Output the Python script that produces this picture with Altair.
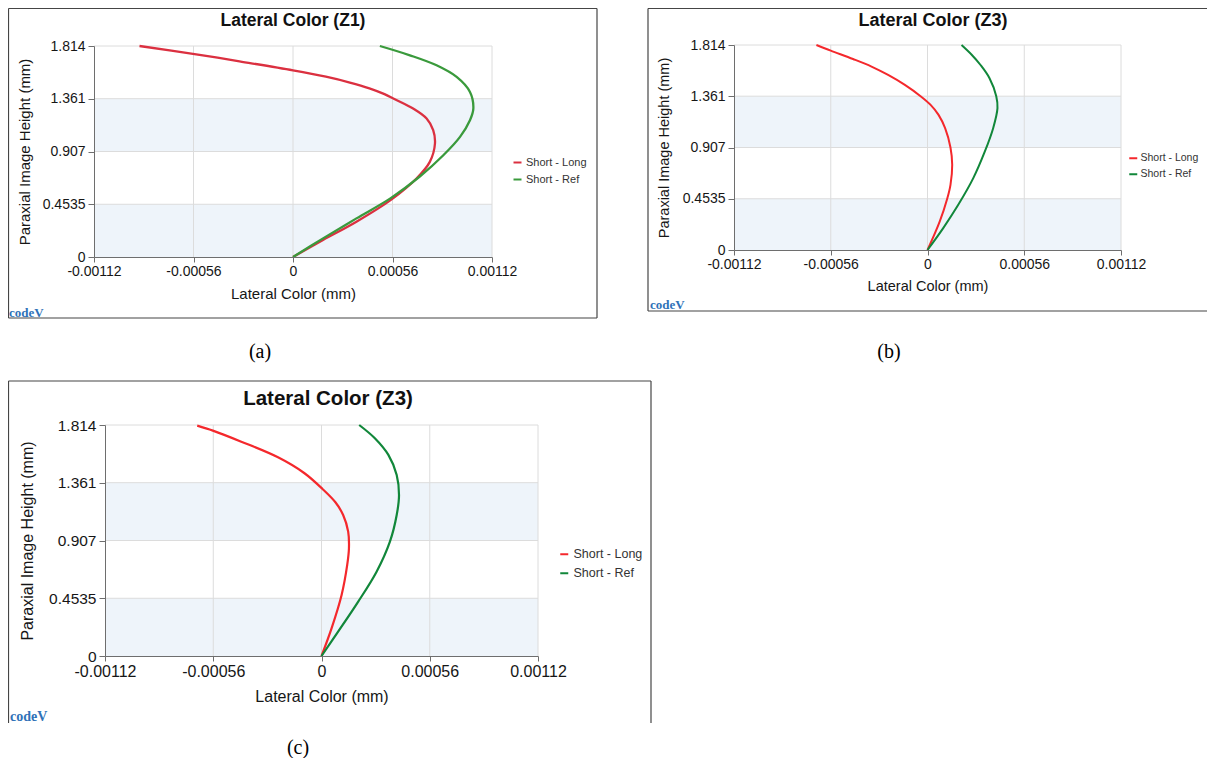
import altair as alt
import pandas as pd

FONT = "Liberation Sans"
SERIF = "Liberation Serif"
TXT = "#161616"
FRAME = "#454545"
GRID = "#dcdcdc"
BAND = "#eef4fa"
AXC = "#6e6e6e"

W, H = 1199, 750

series_names = ["Short - Long", "Short - Ref"]
x_ticks = [-0.00112, -0.00056, 0.0, 0.00056, 0.00112]
y_ticks = [0.0, 0.4535, 0.907, 1.361, 1.814]
band_lo = [0.0, 0.907]
band_hi = [0.4535, 1.361]

titles = ["Lateral Color (Z1)", "Lateral Color (Z3)", "Lateral Color (Z3)"]
captions = ["(a)", "(b)", "(c)"]
x_title = "Lateral Color (mm)"
y_title = "Paraxial Image Height (mm)"
logo_text = "codeV"

# Panel (a) Z1
a_long_h = [0, 0.146, 0.303, 0.495, 0.675, 0.818, 0.976, 1.09, 1.19, 1.276, 1.356, 1.40, 1.45, 1.50, 1.55,
            1.605, 1.682, 1.745, 1.814]
a_long_x = [0, 0.000169, 0.000357, 0.000555, 0.000695, 0.00077, 0.000799, 0.000789, 0.000752, 0.000676,
            0.000573, 0.000515, 0.00043, 0.00032, 0.000185, 0.0, -0.000301, -0.000554, -0.000864]
a_ref_h = [0, 0.160, 0.332, 0.504, 0.69, 0.875, 1.033, 1.176, 1.276, 1.419, 1.548, 1.648, 1.734, 1.814]
a_ref_x = [0, 0.000169, 0.000357, 0.000548, 0.000712, 0.000846, 0.00094, 0.000996, 0.001015, 0.000996,
           0.000921, 0.000808, 0.000658, 0.000489]

# Panel (b) Z3
b_long_h = [0, 0.253, 0.4535, 0.577, 0.754, 0.907, 1.078, 1.196, 1.284, 1.361, 1.461, 1.549, 1.623, 1.69, 1.764, 1.814]
b_long_x = [0, 0.000071, 0.000114, 0.000133, 0.000143, 0.000133, 0.000102, 0.000064, 0.000018, -0.00004,
            -0.000131, -0.000228, -0.000324, -0.000431, -0.00056, -0.000643]
b_ref_h = [0, 0.194, 0.40, 0.636, 0.872, 1.078, 1.255, 1.361, 1.52, 1.637, 1.726, 1.814]
b_ref_x = [0, 0.000091, 0.000178, 0.000265, 0.000332, 0.00038, 0.000405, 0.000398, 0.000359, 0.000307,
           0.000257, 0.000197]

# Panel (c) Z3
c_long_h = [0, 0.217, 0.479, 0.715, 0.846, 0.977, 1.107, 1.207, 1.312, 1.435, 1.56, 1.683, 1.77, 1.809]
c_long_x = [0, 0.000052, 0.000104, 0.000133, 0.000142, 0.000138, 0.000112, 0.000072, 0.000005, -0.000088,
            -0.000225, -0.000415, -0.000562, -0.000643]
c_ref_h = [0, 0.191, 0.427, 0.662, 0.898, 1.107, 1.264, 1.421, 1.579, 1.71, 1.814]
c_ref_x = [0, 0.000086, 0.00019, 0.000285, 0.000354, 0.000389, 0.000401, 0.000389, 0.000346, 0.000276, 0.000195]

LABEL_EXPR = "datum.value < 0 ? '-' + format(-datum.value, '~g') : format(datum.value, '~g')"


def curve_table(long_h, long_x, ref_h, ref_x):
    rows = []
    for name, hs, xs in [(series_names[0], long_h, long_x), (series_names[1], ref_h, ref_x)]:
        for i, (h, x) in enumerate(zip(hs, xs)):
            rows.append({"series": name, "h": h, "x": x, "idx": i})
    return pd.DataFrame(rows)


def panel(df, c):
    x0, x1, y0, y1 = c["plot"]  # pixel box of the plot area (left, right, bottom, top)
    xs = alt.Scale(domain=[x_ticks[0], x_ticks[-1]], range=[x0, x1], nice=False, zero=False)
    ys = alt.Scale(domain=[y_ticks[0], y_ticks[-1]], range=[y0, y1], nice=False, zero=False)
    common = dict(
        labelFont=FONT, titleFont=FONT, labelColor=TXT, titleColor=TXT, grid=False,
        titleFontWeight="normal", domainColor=AXC, tickColor=AXC, labelFlush=False,
        labelExpr=LABEL_EXPR, zindex=1,
    )
    xaxis = alt.Axis(orient="bottom", offset=y0 - H, values=x_ticks, title=x_title, labelFontSize=c["xlab"],
                     titleFontSize=c["tit"], titlePadding=c["xtp"], labelPadding=2, tickSize=5, **common)
    yaxis = alt.Axis(orient="left", offset=-x0, values=y_ticks, title=y_title, labelFontSize=c["ylab"],
                     titleFontSize=c["tit"], titlePadding=c["ytp"], labelPadding=3, tickSize=6, **common)

    bands = pd.DataFrame({"lo": band_lo, "hi": band_hi,
                          "x0": [x_ticks[0]] * len(band_lo), "x1": [x_ticks[-1]] * len(band_lo)})
    band = alt.Chart(bands).mark_rect(color=BAND).encode(
        x=alt.X("x0:Q", scale=xs, axis=xaxis), x2="x1:Q",
        y=alt.Y("lo:Q", scale=ys, axis=yaxis), y2="hi:Q",
    )
    vg = alt.Chart(pd.DataFrame({"gx": x_ticks[1:]})).mark_rule(color=GRID, strokeWidth=1).encode(
        x=alt.X("gx:Q", scale=xs, axis=xaxis),
        y=alt.Y(datum=y_ticks[0], type="quantitative", scale=ys, axis=yaxis),
        y2=alt.Y2(datum=y_ticks[-1]),
    )
    hg = alt.Chart(pd.DataFrame({"gy": y_ticks[1:]})).mark_rule(color=GRID, strokeWidth=1).encode(
        y=alt.Y("gy:Q", scale=ys, axis=yaxis),
        x=alt.X(datum=x_ticks[0], type="quantitative", scale=xs, axis=xaxis),
        x2=alt.X2(datum=x_ticks[-1]),
    )
    lines = alt.Chart(df).mark_line(interpolate="catmull-rom", strokeWidth=c["lw"]).encode(
        x=alt.X("x:Q", scale=xs, axis=xaxis),
        y=alt.Y("h:Q", scale=ys, axis=yaxis),
        color=alt.Color("series:N", scale=alt.Scale(domain=series_names, range=c["colors"]),
                        legend=alt.Legend(orient="none", legendX=c["legx"], legendY=c["legy"], title=None,
                                          symbolType="stroke", symbolSize=64, symbolStrokeWidth=2,
                                          labelFont=FONT, labelFontSize=c["legfs"], labelColor="#333333",
                                          rowPadding=c["legrp"], labelOffset=c["lego"])),
        order=alt.Order("idx:Q"),
    )
    return alt.layer(band, vg, hg, lines)


def decorations(c):
    one = pd.DataFrame({"k": [0]})
    L, R, T, B = c["frame"]
    out = []
    rule = dict(color=FRAME, strokeWidth=1.2)
    out.append(alt.Chart(one).mark_rule(**rule).encode(x=alt.value(L), x2=alt.value(R), y=alt.value(T)))
    out.append(alt.Chart(one).mark_rule(**rule).encode(x=alt.value(L), y=alt.value(T), y2=alt.value(B)))
    if c["right"]:
        out.append(alt.Chart(one).mark_rule(**rule).encode(x=alt.value(R), y=alt.value(T), y2=alt.value(B)))
    if c["bottom"]:
        out.append(alt.Chart(one).mark_rule(**rule).encode(x=alt.value(L), x2=alt.value(R), y=alt.value(B)))
    tx, ty = c["title_pos"]
    out.append(alt.Chart(one).mark_text(text=c["title"], font=FONT, fontSize=c["title_fs"], fontWeight="bold",
                                        align="center", baseline="middle", color="#111111").encode(
        x=alt.value(tx), y=alt.value(ty)))
    lx, ly = c["logo_pos"]
    out.append(alt.Chart(one).mark_text(text=logo_text, font=SERIF, fontSize=c["logo_fs"], fontWeight="bold",
                                        align="left", baseline="alphabetic", color="#2f72b8").encode(
        x=alt.value(lx), y=alt.value(ly)))
    cx, cy = c["cap_pos"]
    out.append(alt.Chart(one).mark_text(text=c["caption"], font=SERIF, fontSize=20,
                                        align="center", baseline="middle", color="#000000").encode(
        x=alt.value(cx), y=alt.value(cy)))
    return out


# all positions below are in chart pixels (page position minus the 8px margin)
cfg_a = dict(plot=(86, 484, 249, 38), xlab=14, ylab=14, tit=15, xtp=8, ytp=10, lw=2.3,
             colors=["#db3040", "#3a9a3c"], legx=504, legy=149, legfs=11, legrp=5, lego=3,
             frame=(0.5, 589, 0.5, 310), right=True, bottom=True,
             title=titles[0], title_pos=(285, 13), title_fs=17.5,
             logo_pos=(1, 309), logo_fs=13, caption=captions[0], cap_pos=(252, 344))
cfg_b = dict(plot=(726, 1113, 242, 37), xlab=14, ylab=14, tit=14.5, xtp=8, ytp=11, lw=2,
             colors=["#f4282c", "#11873a"], legx=1120, legy=145, legfs=10.5, legrp=5, lego=2,
             frame=(640, 1199, 0.5, 303), right=False, bottom=True,
             title=titles[1], title_pos=(925, 13), title_fs=18,
             logo_pos=(642, 301), logo_fs=13, caption=captions[1], cap_pos=(881, 344))
cfg_c = dict(plot=(97, 530, 648, 417), xlab=16, ylab=15.5, tit=16, xtp=9, ytp=13, lw=2.2,
             colors=["#f4282c", "#11873a"], legx=550, legy=540, legfs=12.5, legrp=6, lego=3,
             frame=(0.5, 643, 373, 715), right=True, bottom=False,
             title=titles[2], title_pos=(320, 391), title_fs=20.5,
             logo_pos=(2, 713), logo_fs=14, caption=captions[2], cap_pos=(290, 740))

pa = panel(curve_table(a_long_h, a_long_x, a_ref_h, a_ref_x), cfg_a)
pb = panel(curve_table(b_long_h, b_long_x, b_ref_h, b_ref_x), cfg_b)
pc = panel(curve_table(c_long_h, c_long_x, c_ref_h, c_ref_x), cfg_c)

deco = decorations(cfg_a) + decorations(cfg_b) + decorations(cfg_c)

chart = alt.layer(pa, pb, pc, *deco).resolve_scale(
    x="independent", y="independent", color="independent"
).resolve_axis(x="independent", y="independent").resolve_legend(color="independent").properties(
    width=W, height=H, padding=0, background="white",
    autosize=alt.AutoSizeParams(type="none"),
).configure_view(stroke=None)

chart.save("out.html", embed_options={"renderer": "svg", "actions": False})
